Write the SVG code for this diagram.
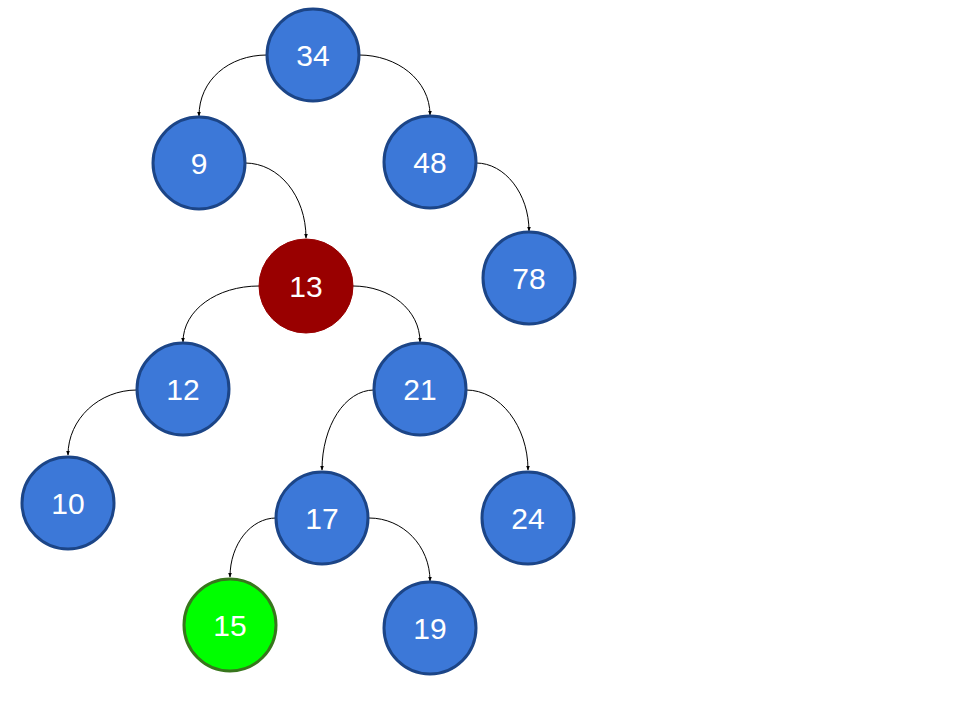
<svg xmlns="http://www.w3.org/2000/svg" width="960" height="720" viewBox="0 0 960 720">
<defs>
<marker id="arr" viewBox="0 0 10 10" refX="9" refY="5" markerWidth="5" markerHeight="5" orient="auto" markerUnits="userSpaceOnUse">
<path d="M0,1 L10,5 L0,9 Z" fill="#000"/>
</marker>
</defs>
<style>
.n{fill:#3c78d8;stroke:#1c4587;stroke-width:3}
.r{fill:#990000;stroke:#990000;stroke-width:1}
.g{fill:#00ff00;stroke:#38761d;stroke-width:3}
.t{font-family:"Liberation Sans",Arial,sans-serif;font-size:30px;fill:#fff;text-anchor:middle;dominant-baseline:central}
.e{fill:none;stroke:#000;stroke-width:1;marker-end:url(#arr)}
</style>
<rect width="960" height="720" fill="#fff"/>
<g id="connectors">
<path class="e" d="M267,55 C229,55 199,80 199,116"/>
<path class="e" d="M359,55 C397,55 430,80 430,115"/>
<path class="e" d="M245,163 C279,163 306,196 306,238"/>
<path class="e" d="M476,163 C505,163 529,194 529,231"/>
<path class="e" d="M259,286 C217,286 183,310 183,342"/>
<path class="e" d="M353,286 C390,286 420,310 420,342"/>
<path class="e" d="M137,390 C99,390 68,419 68,455"/>
<path class="e" d="M374,390 C345,390 322,426 322,470"/>
<path class="e" d="M466,390 C500,390 528,426 528,470"/>
<path class="e" d="M276,518 C251,518 230,544 230,577"/>
<path class="e" d="M369,518 C403,518 430,546 430,581"/>
</g>
<g id="n34"><circle class="n" cx="313" cy="55" r="46"/><text class="t" x="313" y="55">34</text></g>
<g id="n9"><circle class="n" cx="199" cy="163" r="46"/><text class="t" x="199" y="163">9</text></g>
<g id="n48"><circle class="n" cx="430" cy="162" r="46"/><text class="t" x="430" y="162">48</text></g>
<g id="n13"><circle class="r" cx="306" cy="286" r="47"/><text class="t" x="306" y="286">13</text></g>
<g id="n78"><circle class="n" cx="529" cy="278" r="46"/><text class="t" x="529" y="278">78</text></g>
<g id="n12"><circle class="n" cx="183" cy="389" r="46"/><text class="t" x="183" y="389">12</text></g>
<g id="n21"><circle class="n" cx="420" cy="389" r="46"/><text class="t" x="420" y="389">21</text></g>
<g id="n10"><circle class="n" cx="68" cy="503" r="46"/><text class="t" x="68" y="503">10</text></g>
<g id="n17"><circle class="n" cx="322" cy="518" r="46"/><text class="t" x="322" y="518">17</text></g>
<g id="n24"><circle class="n" cx="528" cy="518" r="46"/><text class="t" x="528" y="518">24</text></g>
<g id="n15"><circle class="g" cx="230" cy="625" r="46"/><text class="t" x="230" y="625">15</text></g>
<g id="n19"><circle class="n" cx="430" cy="628" r="46"/><text class="t" x="430" y="628">19</text></g>
</svg>
